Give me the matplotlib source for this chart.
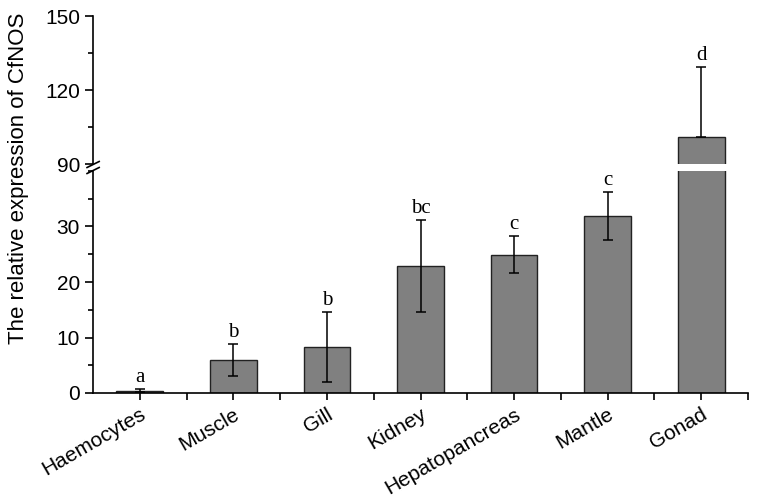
import matplotlib.pyplot as plt
from matplotlib.ticker import MultipleLocator

plt.rcParams['font.family'] = ['Liberation Sans', 'DejaVu Sans']

tissues = ['Haemocytes', 'Muscle', 'Gill', 'Kidney', 'Hepatopancreas', 'Mantle', 'Gonad']
expression = [0.4, 5.9, 8.3, 22.9, 24.9, 31.9, 101.0]
sd = [0.3, 2.9, 6.3, 8.3, 3.3, 4.3, 28.3]
letters = ['a', 'b', 'b', 'bc', 'c', 'c', 'd']

x = list(range(1, len(tissues) + 1))

fig = plt.figure(figsize=(7.57, 5), dpi=100)
ax_top = fig.add_axes([0.123, 0.672, 0.865, 0.296])
ax_low = fig.add_axes([0.123, 0.214, 0.865, 0.444])

# the lower half of the gonad error bar falls inside the axis break
lower_err = [e if v - e < 40 else 0 for v, e in zip(expression, sd)]

for ax in (ax_top, ax_low):
    ax.bar(x, expression, width=0.5, color='#808080', edgecolor='#222222', linewidth=1, zorder=2)
    ax.errorbar(x, expression, yerr=[lower_err, sd], fmt='none', ecolor='black',
                elinewidth=1.1, capsize=3.3, capthick=1.1, zorder=3)
    ax.set_xlim(0.5, 7.5)
    for s in ('top', 'right'):
        ax.spines[s].set_visible(False)
    ax.spines['left'].set_linewidth(1.2)
    ax.tick_params(axis='y', which='major', direction='out', length=6, width=1.2, labelsize=15)
    ax.tick_params(axis='y', which='minor', direction='out', length=3.5, width=1.2)

ax_low.set_ylim(0, 40)
ax_low.yaxis.set_minor_locator(MultipleLocator(5))
ax_low.set_yticks([0, 10, 20, 30])
ax_low.spines['bottom'].set_linewidth(1.2)
ax_low.set_xticks(x)
ax_low.set_xticks([i + 0.5 for i in x], minor=True)
ax_low.tick_params(axis='x', which='both', direction='out', length=5, width=1.2)
ax_low.set_xticklabels(tissues, rotation=30, ha='right', rotation_mode='anchor', fontsize=15)

ax_top.set_ylim(90, 150)
ax_top.set_yticks([90, 120, 150])
ax_top.yaxis.set_minor_locator(MultipleLocator(15))
ax_top.spines['bottom'].set_visible(False)
ax_top.set_xticks([])

for xi, v, e, lab in zip(x, expression, sd, letters):
    ax = ax_top if v + e > 40 else ax_low
    ax.annotate(lab, (xi, v + e), xytext=(0, 1.5), textcoords='offset points',
                ha='center', va='bottom', fontsize=15, family='Liberation Serif',
                annotation_clip=False)

# axis break marks
x0 = 0.123
for yb in (0.671, 0.659):
    fig.add_artist(plt.Line2D([x0 - 0.008, x0 + 0.008], [yb - 0.006, yb + 0.006],
                              color='black', lw=1.2))

fig.text(0.025, 0.644, 'The relative expression of CfNOS', rotation=90,
         ha='center', va='center', fontsize=16)

fig.savefig('out.png', dpi=100)
